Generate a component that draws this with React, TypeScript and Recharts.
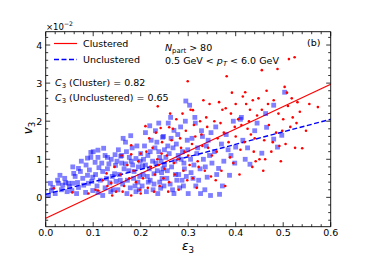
import React from 'react'
import { ScatterChart, Scatter, XAxis, YAxis, ReferenceLine } from 'recharts'

const X_DOMAIN = [0, 0.6]
const Y_DOMAIN = [-0.77, 4.35]
const X_MAJOR = [0, 0.1, 0.2, 0.3, 0.4, 0.5, 0.6]
const X_TICKS = [
  0, 0.02, 0.04, 0.06, 0.08, 0.1, 0.12, 0.14, 0.16, 0.18, 0.2, 0.22, 0.24, 0.26, 0.28, 0.3,
  0.32, 0.34, 0.36, 0.38, 0.4, 0.42, 0.44, 0.46, 0.48, 0.5, 0.52, 0.54, 0.56, 0.58, 0.6,
]
const Y_MAJOR = [0, 1, 2, 3, 4]
const Y_TICKS = [
  -0.6, -0.4, -0.2, 0, 0.2, 0.4, 0.6, 0.8, 1, 1.2, 1.4, 1.6, 1.8, 2, 2.2, 2.4, 2.6, 2.8, 3,
  3.2, 3.4, 3.6, 3.8, 4, 4.2,
]

// fit lines (eps3, v3 x 1e2)
const CLUSTERED_FIT = [[0, -0.55], [0.6, 2.97]]
const UNCLUSTERED_FIT = [[0, 0.08], [0.6, 2.05]]

// events (eps3, v3 x 1e2)
const clustered: [number, number][] = [
  [0.017, 0.24], [0.056, 0.13], [0.11, 0.18], [0.128, 0.63], [0.13, 0.3], [0.105, 0.2],
  [0.14, 0.05], [0.12, 0.45], [0.145, 0.8], [0.09, 0.1], [0.138, 0.38], [0.148, 0.15],
  [0.16, 1.1], [0.18, 1.37], [0.18, 1.13], [0.18, 0.05], [0.2, 1.15], [0.2, 0.1],
  [0.21, 1.87], [0.236, 2.39], [0.242, 1.82], [0.26, 1.84], [0.157, 0.6], [0.165, 0.3],
  [0.172, 0.85], [0.185, 0.7], [0.19, 0.4], [0.195, 0.95], [0.205, 0.5], [0.215, 0.25],
  [0.22, 0.8], [0.225, 1.3], [0.23, 0.6], [0.235, 1.0], [0.24, 0.3], [0.245, 1.45],
  [0.25, 0.75], [0.212, 1.2], [0.228, 0.15], [0.218, 1.55], [0.248, 0.5], [0.198, 0.2],
  [0.232, 1.7], [0.238, 0.85], [0.162, 0.15], [0.176, 0.5], [0.244, 1.15],
  [0.255, 1.1], [0.26, 0.4], [0.265, 1.5], [0.27, 0.9], [0.275, 2.05], [0.28, 0.2],
  [0.285, 1.3], [0.29, 0.7], [0.295, 1.75], [0.299, 3.05], [0.3, 1.1], [0.305, 2.3],
  [0.31, 2.29], [0.31, 0.5], [0.315, 1.6], [0.32, 0.95], [0.325, 2.0], [0.33, 1.35],
  [0.335, 0.7], [0.34, 1.85], [0.345, 2.45], [0.35, 1.1], [0.258, 0.15], [0.268, 1.8],
  [0.278, 1.0], [0.288, 2.2], [0.298, 0.45], [0.308, 1.4], [0.318, 0.25], [0.328, 1.65],
  [0.338, 2.1], [0.348, 0.55], [0.262, 2.2], [0.272, 0.6], [0.292, 1.2], [0.312, 1.9],
  [0.322, 0.8], [0.332, 2.55], [0.342, 1.3], [0.283, 1.55], [0.303, 0.85],
  [0.355, 2.0], [0.36, 1.2], [0.365, 2.5], [0.37, 0.7], [0.375, 1.7], [0.379, 2.34],
  [0.381, 3.18], [0.385, 1.45], [0.39, 2.2], [0.395, 0.9], [0.4, 2.45], [0.4, 1.6],
  [0.405, 2.05], [0.41, 1.25], [0.415, 2.65], [0.42, 2.76], [0.425, 1.8], [0.43, 2.3],
  [0.435, 0.8], [0.436, 2.55], [0.44, 1.55], [0.445, 2.15], [0.45, 1.0], [0.358, 0.45],
  [0.368, 1.95], [0.378, 0.3], [0.388, 1.05], [0.398, 1.85], [0.408, 0.6], [0.418, 1.45],
  [0.428, 2.0], [0.438, 1.2], [0.448, 2.6], [0.362, 1.55], [0.372, 2.3], [0.392, 2.75],
  [0.412, 1.9], [0.432, 1.65], [0.442, 0.95], [0.422, 2.45], [0.455, 3.34],
  [0.455, 2.3], [0.46, 1.5], [0.465, 2.8], [0.47, 1.9], [0.475, 1.2], [0.48, 2.55],
  [0.485, 1.7], [0.488, 3.37], [0.49, 2.2], [0.495, 0.95], [0.5, 2.05], [0.503, 2.9],
  [0.505, 1.4], [0.51, 2.4], [0.512, 3.63], [0.515, 1.85], [0.518, 2.6], [0.52, 2.1],
  [0.524, 3.68], [0.525, 1.3], [0.53, 2.5], [0.54, 1.29], [0.548, 1.75], [0.555, 2.45],
  [0.573, 2.37], [0.458, 0.7], [0.468, 2.45], [0.478, 1.45], [0.498, 1.75], [0.508, 2.75],
  [0.528, 1.95], [0.535, 2.25], [0.462, 1.0], [0.492, 1.35],
]

const unclustered: [number, number][] = [
  [0.006, 0.05], [0.01, 0.37], [0.015, 0.26], [0.02, 0.1], [0.027, 0.37], [0.03, 0.58],
  [0.036, 0.32], [0.042, 0.39], [0.045, 0.15], [0.048, 0.37], [0.012, 0.18], [0.04, 0.5],
  [0.025, 0.45], [0.033, 0.2], [0.05, 0.28],
  [0.057, 0.8], [0.057, 0.37], [0.059, 0.63], [0.067, 0.39], [0.069, 0.76], [0.069, 0.26],
  [0.078, 0.5], [0.08, 0.32], [0.084, 0.13], [0.088, 0.58], [0.088, 1.03], [0.09, 0.37],
  [0.095, 1.05], [0.095, 1.18], [0.099, 0.53], [0.099, 0.18], [0.1, 1.2], [0.062, 0.55],
  [0.073, 0.68], [0.085, 0.85], [0.092, 0.72], [0.055, 0.18], [0.075, 0.95], [0.097, 0.42],
  [0.065, 0.1],
  [0.11, 1.05], [0.11, 1.24], [0.11, 0.13], [0.122, 1.29], [0.125, 1.1], [0.13, 1.05],
  [0.138, 1.0], [0.147, 0.84], [0.12, 0.68], [0.115, 0.45], [0.105, 0.6], [0.13, 0.75],
  [0.135, 0.38], [0.14, 0.55], [0.125, 0.25], [0.118, 0.9], [0.145, 0.62], [0.142, 0.2],
  [0.108, 0.3], [0.128, 0.5], [0.15, 0.95], [0.112, 0.78], [0.137, 0.15], [0.148, 0.42],
  [0.133, 0.88], [0.104, 0.92], [0.12, 0.05], [0.146, 1.12],
  [0.158, 1.08], [0.16, 0.9], [0.16, 1.1], [0.168, 1.45], [0.17, 1.2], [0.175, 0.7],
  [0.18, 0.95], [0.185, 0.5], [0.19, 1.02], [0.195, 0.8], [0.155, 0.6], [0.162, 0.35],
  [0.172, 0.45], [0.178, 0.25], [0.188, 0.3], [0.198, 0.55], [0.152, 0.2], [0.165, 0.75],
  [0.182, 1.3], [0.19, 0.15], [0.2, 1.15], [0.157, 0.45], [0.168, 0.88], [0.176, 1.05],
  [0.186, 0.68], [0.194, 0.4], [0.153, 1.25], [0.171, 0.1], [0.183, 0.85], [0.199, 0.95],
  [0.163, 1.55], [0.179, 1.62], [0.192, 1.35], [0.197, 0.2],
  [0.205, 0.6], [0.21, 0.85], [0.215, 1.1], [0.22, 0.45], [0.225, 0.95], [0.23, 1.3],
  [0.235, 0.7], [0.24, 1.05], [0.242, 0.24], [0.245, 0.5], [0.248, 1.6], [0.25, 0.85],
  [0.203, 0.3], [0.208, 1.35], [0.212, 0.15], [0.218, 0.75], [0.222, 1.5], [0.228, 0.35],
  [0.232, 0.9], [0.238, 1.2], [0.244, 0.65], [0.246, 1.58], [0.206, 1.0], [0.214, 0.55],
  [0.226, 0.2], [0.234, 1.45], [0.24, 0.4], [0.25, 1.25], [0.21, 1.7], [0.22, 1.2],
  [0.236, 0.1], [0.243, 0.95], [0.216, 0.4], [0.228, 0.62], [0.249, 0.3], [0.204, 0.82],
  [0.231, 1.75], [0.219, 1.88], [0.247, 0.75], [0.238, 1.95],
  [0.255, 0.5], [0.26, 1.15], [0.265, 0.8], [0.27, 1.76], [0.27, 0.1], [0.275, 1.4],
  [0.28, 0.6], [0.285, 1.0], [0.29, 0.3], [0.295, 2.53], [0.3, 0.1], [0.258, 1.95],
  [0.262, 0.35], [0.268, 1.3], [0.272, 0.95], [0.278, 1.65], [0.282, 0.25], [0.288, 1.2],
  [0.292, 0.75], [0.298, 1.5], [0.256, 0.7], [0.264, 1.55], [0.276, 0.45], [0.284, 1.85],
  [0.296, 0.55], [0.253, 1.05], [0.267, 0.2], [0.279, 1.1], [0.291, 0.9], [0.299, 1.25],
  [0.257, 1.35], [0.273, 0.6], [0.287, 0.45], [0.263, 2.1], [0.294, 2.0],
  [0.303, 2.42], [0.305, 1.0], [0.31, 0.5], [0.315, 1.95], [0.316, 0.3], [0.32, 1.3],
  [0.325, 0.75], [0.33, 1.6], [0.335, 0.2], [0.34, 0.53], [0.345, 1.1], [0.347, 0.05],
  [0.35, 0.9], [0.308, 1.55], [0.312, 0.85], [0.318, 1.15], [0.322, 0.45], [0.328, 1.75],
  [0.332, 1.0], [0.338, 1.35], [0.306, 0.65], [0.326, 0.1], [0.342, 1.5], [0.314, 2.1],
  [0.336, 0.8], [0.348, 1.7],
  [0.355, 1.2], [0.36, 0.6], [0.364, 0.76], [0.366, 0.08], [0.37, 1.4], [0.375, 0.95],
  [0.38, 1.65], [0.387, 0.58], [0.39, 1.1], [0.395, 2.0], [0.4, 1.32], [0.358, 1.85],
  [0.372, 0.3], [0.384, 1.25], [0.398, 0.9],
  [0.41, 2.05], [0.412, 2.1], [0.415, 1.5], [0.42, 1.0], [0.43, 0.87], [0.44, 1.75],
  [0.455, 1.16], [0.463, 2.2], [0.465, 1.84], [0.48, 2.42], [0.48, 1.53], [0.488, 1.32],
  [0.497, 1.63], [0.503, 2.76], [0.425, 1.3], [0.445, 1.95],
]

const clusteredData = clustered.map(([x, y]) => ({ x, y }))
const unclusteredData = unclustered.map(([x, y]) => ({ x, y }))

const FONT = '"DejaVu Sans", sans-serif'

function isMajor(v: number, majors: number[]) {
  return majors.some(m => Math.abs(m - v) < 1e-6)
}

type Side = 'bottom' | 'top' | 'left' | 'right'

function makeTick(side: Side, majors: number[], showLabel: boolean) {
  return (props: any) => {
    const { x, y, payload } = props
    const major = isMajor(payload.value, majors)
    const len = major ? 4.5 : 2.5
    let x2 = x
    let y2 = y
    if (side === 'bottom') y2 = y - len
    if (side === 'top') y2 = y + len
    if (side === 'left') x2 = x + len
    if (side === 'right') x2 = x - len
    return (
      <g>
        <line x1={x} y1={y} x2={x2} y2={y2} stroke="#000" strokeWidth={0.8} />
        {showLabel && major && side === 'bottom' && (
          <text x={x} y={y + 9.5} textAnchor="middle" fontSize={9.5} fontFamily={FONT} fill="#000">
            {payload.value.toFixed(1)}
          </text>
        )}
        {showLabel && major && side === 'left' && (
          <text x={x - 3.5} y={y + 3.5} textAnchor="end" fontSize={9.5} fontFamily={FONT} fill="#000">
            {payload.value}
          </text>
        )}
      </g>
    )
  }
}

const squareShape = (p: any) => (
  <rect x={p.cx - 2.4} y={p.cy - 2.4} width={4.8} height={4.8} fill="#0000ff" fillOpacity={0.5} />
)
const dotShape = (p: any) => <circle cx={p.cx} cy={p.cy} r={1.3} fill="#ff0000" />

function Sub({ children, italic }: { children: React.ReactNode; italic?: boolean }) {
  return (
    <span style={{ fontSize: '0.72em', position: 'relative', top: '0.3em', fontStyle: italic ? 'italic' : 'normal' }}>
      {children}
    </span>
  )
}

function Txt({ x, y, children, size = 9.5 }: { x: number; y: number; children: React.ReactNode; size?: number }) {
  return (
    <div
      style={{
        position: 'absolute',
        left: x,
        top: y - 7,
        height: 14,
        lineHeight: '14px',
        fontSize: size,
        fontFamily: FONT,
        whiteSpace: 'nowrap',
        color: '#000',
      }}
    >
      {children}
    </div>
  )
}

export default function App() {
  return (
    <div style={{ position: 'absolute', left: 0, top: 0, width: 368, height: 260, background: '#fff' }}>
      <ScatterChart
        width={368}
        height={260}
        margin={{ top: 26.7, right: 32.3, bottom: 3.3, left: 15.7 }}
      >
        <XAxis
          xAxisId="b"
          type="number"
          dataKey="x"
          domain={X_DOMAIN}
          ticks={X_TICKS}
          interval={0}
          allowDataOverflow
          height={30}
          tickSize={0}
          tickMargin={0}
          tickLine={false}
          axisLine={{ stroke: '#000', strokeWidth: 0.9 }}
          tick={makeTick('bottom', X_MAJOR, true)}
        />
        <XAxis
          xAxisId="t"
          orientation="top"
          type="number"
          dataKey="x"
          domain={X_DOMAIN}
          ticks={X_TICKS}
          interval={0}
          allowDataOverflow
          height={5}
          tickSize={0}
          tickMargin={0}
          tickLine={false}
          axisLine={{ stroke: '#000', strokeWidth: 0.9 }}
          tick={makeTick('top', X_MAJOR, false)}
        />
        <YAxis
          yAxisId="l"
          type="number"
          dataKey="y"
          domain={Y_DOMAIN}
          ticks={Y_TICKS}
          interval={0}
          allowDataOverflow
          width={30}
          tickSize={0}
          tickMargin={0}
          tickLine={false}
          axisLine={{ stroke: '#000', strokeWidth: 0.9 }}
          tick={makeTick('left', Y_MAJOR, true)}
        />
        <YAxis
          yAxisId="r"
          orientation="right"
          type="number"
          dataKey="y"
          domain={Y_DOMAIN}
          ticks={Y_TICKS}
          interval={0}
          allowDataOverflow
          width={5}
          tickSize={0}
          tickMargin={0}
          tickLine={false}
          axisLine={{ stroke: '#000', strokeWidth: 0.9 }}
          tick={makeTick('right', Y_MAJOR, false)}
        />
        <Scatter
          xAxisId="b"
          yAxisId="l"
          data={unclusteredData}
          shape={squareShape}
          isAnimationActive={false}
        />
        <Scatter
          xAxisId="b"
          yAxisId="l"
          data={clusteredData}
          shape={dotShape}
          isAnimationActive={false}
        />
        <ReferenceLine
          xAxisId="b"
          yAxisId="l"
          segment={CLUSTERED_FIT.map(([x, y]) => ({ x, y }))}
          stroke="#ff0000"
          strokeWidth={1.2}
        />
        <ReferenceLine
          xAxisId="b"
          yAxisId="l"
          segment={UNCLUSTERED_FIT.map(([x, y]) => ({ x, y }))}
          stroke="#0000ff"
          strokeWidth={1.4}
          strokeDasharray="5 2.5"
        />
      </ScatterChart>

      {/* legend */}
      <svg style={{ position: 'absolute', left: 0, top: 0 }} width={368} height={260}>
        <line x1={54} y1={43.5} x2={77} y2={43.5} stroke="#ff0000" strokeWidth={1.2} />
        <line x1={54} y1={59.5} x2={77} y2={59.5} stroke="#0000ff" strokeWidth={1.4} strokeDasharray="5 2.5" />
      </svg>
      <Txt x={83} y={44}>Clustered</Txt>
      <Txt x={83} y={59.5}>Unclustered</Txt>
      <Txt x={55} y={83}>
        <i>C</i>
        <Sub>3</Sub> (Cluster) = 0.82
      </Txt>
      <Txt x={55} y={98}>
        <i>C</i>
        <Sub>3</Sub> (Unclustered) = 0.65
      </Txt>
      <Txt x={165} y={47.5}>
        <i>N</i>
        <Sub>part</Sub> &gt; 80
      </Txt>
      <Txt x={165} y={61}>
        0.5 GeV &lt; <i>p</i>
        <Sub italic>T</Sub> &lt; 6.0 GeV
      </Txt>
      <Txt x={307} y={43}>(b)</Txt>
      <Txt x={46} y={24} size={8.5}>
        ×10<sup style={{ fontSize: '0.72em' }}>−2</sup>
      </Txt>
      <div
        style={{
          position: 'absolute',
          left: 28,
          top: 128,
          transform: 'translate(-50%, -50%) rotate(-90deg)',
          fontSize: 12,
          fontFamily: FONT,
          whiteSpace: 'nowrap',
          lineHeight: '14px',
        }}
      >
        <i>v</i>
        <Sub>3</Sub>
      </div>
      <div
        style={{
          position: 'absolute',
          left: 188,
          top: 246,
          transform: 'translate(-50%, -50%)',
          fontSize: 12,
          fontFamily: FONT,
          whiteSpace: 'nowrap',
          lineHeight: '14px',
        }}
      >
        <i>ε</i>
        <Sub>3</Sub>
      </div>
    </div>
  )
}
